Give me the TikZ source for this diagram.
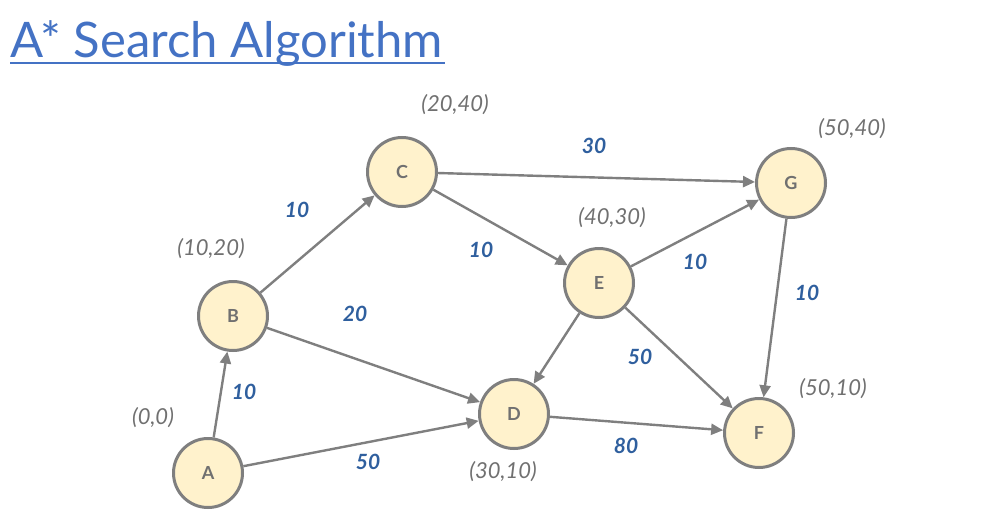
\documentclass[tikz,border=0pt]{standalone}
\usepackage{fontspec}
\setmainfont{Lato}
\usetikzlibrary{arrows.meta}
\definecolor{titleblue}{HTML}{4472C4}
\definecolor{wblue}{HTML}{2F5F9E}
\definecolor{edgegrey}{HTML}{7F7F7F}
\definecolor{labgrey}{HTML}{707070}
\definecolor{nodefill}{HTML}{FFF2CC}
\begin{document}
\begin{tikzpicture}[x=1pt,y=-1pt,
  vertex/.style={circle,draw=edgegrey,line width=3pt,fill=nodefill,minimum size=69pt,inner sep=0pt,
     text=labgrey,font=\fontsize{18}{18}\selectfont\bfseries},
  edge/.style={draw=edgegrey,line width=2.4pt,-{Triangle[length=12pt,width=11pt]}},
  coord/.style={text=labgrey,font=\fontsize{22}{22}\selectfont\itshape},
  weight/.style={text=wblue,font=\fontsize{21}{21}\selectfont\bfseries\itshape}]
\useasboundingbox (0,0) rectangle (982,527);
\node[anchor=base west,inner sep=0pt,text=titleblue,font=\fontsize{49}{49}\selectfont] (title) at (10,57) {A*\ Search Algorithm};
\draw[titleblue,line width=2.5pt] (10,63) -- (445,63);
\node[vertex] (A) at (208,473) {A};
\node[vertex] (B) at (233,316) {B};
\node[vertex] (C) at (402,172) {C};
\node[vertex] (D) at (514,414) {D};
\node[vertex] (E) at (599,283) {E};
\node[vertex] (F) at (759,433) {F};
\node[vertex] (G) at (791,183) {G};
\draw[edge] (A) -- (B);
\draw[edge] (A) -- (D);
\draw[edge] (B) -- (C);
\draw[edge] (B) -- (D);
\draw[edge] (C) -- (G);
\draw[edge] (C) -- (E);
\draw[edge] (E) -- (G);
\draw[edge] (E) -- (D);
\draw[edge] (E) -- (F);
\draw[edge] (D) -- (F);
\draw[edge] (G) -- (F);
\node[coord] (cC) at (455,105) {(20,40)};
\node[coord] (cG) at (852,129) {(50,40)};
\node[coord] (cE) at (612,218) {(40,30)};
\node[coord] (cB) at (211,249) {(10,20)};
\node[coord] (cA) at (153,418) {(0,0)};
\node[coord] (cD) at (503,472) {(30,10)};
\node[coord] (cF) at (833,389) {(50,10)};
\node[weight] (wCG) at (594,146) {30};
\node[weight] (wBC) at (297,210) {10};
\node[weight] (wCE) at (481,250) {10};
\node[weight] (wEG) at (695,262) {10};
\node[weight] (wGF) at (807,293) {10};
\node[weight] (wBD) at (355,314) {20};
\node[weight] (wAB) at (244,392) {10};
\node[weight] (wEF) at (640,357) {50};
\node[weight] (wAD) at (368,462) {50};
\node[weight] (wDF) at (626,446) {80};
\end{tikzpicture}
\end{document}
